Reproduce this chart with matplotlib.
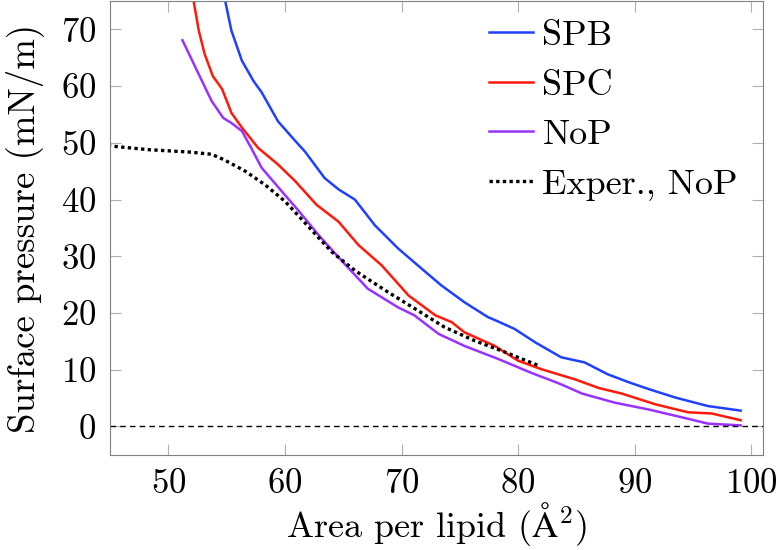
import matplotlib
matplotlib.use("Agg")
from matplotlib import pyplot as plt

plt.rcParams['font.family'] = 'serif'
plt.rcParams['font.serif'] = ['cmr10', 'DejaVu Serif']
plt.rcParams['mathtext.fontset'] = 'cm'
plt.rcParams['axes.formatter.use_mathtext'] = True

# SPB (blue)
spb_x = [54.8, 55.4, 56.3, 57.3, 58.0, 59.4, 60.9, 61.7, 63.4, 64.6, 66.0, 67.7, 69.7,
         71.4, 73.4, 75.4, 77.4, 78.3, 79.7, 81.5, 83.7, 85.7, 87.7, 89.5, 91.2, 93.5,
         96.3, 99.1]
spb_y = [75.7, 69.8, 64.5, 60.9, 58.9, 53.8, 50.3, 48.5, 43.8, 41.8, 40.0, 35.5, 31.4,
         28.4, 24.9, 21.9, 19.3, 18.5, 17.2, 14.8, 12.2, 11.3, 9.2, 7.8, 6.6, 5.1,
         3.6, 2.8]

# SPC (red)
spc_x = [52.1, 52.6, 53.1, 53.8, 54.6, 55.4, 56.3, 57.7, 59.4, 60.9, 62.7, 64.6, 66.3,
         68.3, 70.6, 72.9, 74.3, 75.4, 78.0, 80.0, 82.0, 84.9, 86.9, 88.9, 91.8, 94.6,
         96.6, 99.1]
spc_y = [75.7, 69.8, 65.7, 61.8, 59.5, 55.3, 52.7, 49.1, 46.2, 43.2, 39.1, 36.1, 32.0,
         28.4, 23.1, 19.6, 18.4, 16.6, 14.2, 11.6, 10.1, 8.3, 6.8, 5.8, 3.9, 2.5,
         2.3, 1.1]

# NoP (purple)
nop_x = [51.2, 52.6, 53.7, 54.7, 55.4, 56.3, 57.1, 58.0, 60.0, 61.1, 62.9, 65.1, 67.1,
         69.7, 71.1, 73.2, 75.4, 78.3, 81.2, 83.5, 85.5, 88.3, 91.2, 94.3, 96.3, 99.1]
nop_y = [68.1, 62.1, 57.4, 54.4, 53.5, 52.1, 49.1, 45.6, 40.8, 38.2, 33.7, 28.7, 24.3,
         21.0, 19.6, 16.3, 14.2, 11.9, 9.4, 7.6, 5.8, 4.2, 3.0, 1.5, 0.5, 0.2]

# Experiment, NoP (dotted)
exp_x = [44.8, 48.3, 51.7, 53.7, 54.8, 56.6, 58.3, 60.0, 61.4, 64.0, 66.0, 68.6,
         71.2, 73.7, 76.3, 78.9, 81.8]
exp_y = [49.5, 48.8, 48.4, 48.0, 47.0, 45.0, 42.6, 39.7, 36.6, 30.8, 27.5, 24.0,
         20.7, 17.5, 15.1, 13.1, 10.7]

fig = plt.figure(figsize=(7.76, 5.5), dpi=100)
ax = fig.add_axes([0.142, 0.173, 0.841, 0.825])

ax.plot(spb_x, spb_y, color='#2040ff', lw=1.8, label='SPB')
ax.plot(spc_x, spc_y, color='#ff1a0a', lw=1.8, label='SPC')
ax.plot(nop_x, nop_y, color='#9932ff', lw=1.8, label='NoP')
ax.plot(exp_x, exp_y, color='black', lw=2.4, linestyle=(0, (1.0, 1.0)), label='Exper., NoP')
ax.axhline(0, color='black', lw=1, linestyle=(0, (4, 3)))

ax.set_xlim(45, 101)
ax.set_ylim(-5, 75)
ax.set_xticks([50, 60, 70, 80, 90, 100])
ax.set_yticks([0, 10, 20, 30, 40, 50, 60, 70])
ax.tick_params(direction='in', which='both', top=True, right=True,
               color='#b0b0b0', length=8, labelsize=25, pad=10)
for s in ax.spines.values():
    s.set_color('#808080')

ax.set_xlabel(r'Area per lipid ($\mathrm{\AA}^2$)', fontsize=26, labelpad=0)
ax.set_ylabel('Surface pressure (mN/m)', fontsize=26.5, labelpad=12)

ax.legend(loc='upper right', bbox_to_anchor=(0.984, 0.991), frameon=False,
          fontsize=26, handlelength=1.22, handletextpad=0.25,
          labelspacing=0.48, borderaxespad=0.0)

plt.savefig('out.png', dpi=100)
